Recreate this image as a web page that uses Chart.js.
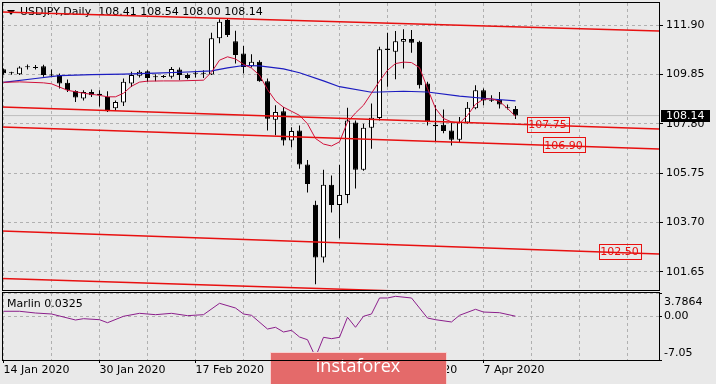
<!DOCTYPE html>
<html>
<head>
<meta charset="utf-8">
<script src="https://cdn.jsdelivr.net/npm/chart.js@4.4.0/dist/chart.umd.min.js"></script>
<style>
  html, body { margin: 0; padding: 0; background: #e9e9e9; }
  #wrap { position: relative; width: 716px; height: 384px; background: #e9e9e9; overflow: hidden; }
  #main { position: absolute; left: 0; top: 0; }
  #ind { position: absolute; left: 0; top: 290px; }
</style>
</head>
<body>
<div id="wrap">
  <canvas id="main" width="716" height="292"></canvas>
  <canvas id="ind" width="716" height="94"></canvas>
</div>
<script>
// daily candles, bar 0 = 14 Jan 2020
const symbol = "USDJPY,Daily";
const opens = [110.06,109.90,109.86,110.15,110.13,110.19,109.85,109.82,109.50,109.16,
  108.85,109.12,109.05,108.91,108.45,108.68,109.47,109.79,109.98,109.77,
  109.74,109.75,110.05,109.82,109.88,109.88,109.85,111.35,112.11,111.23,
  110.72,110.19,110.37,109.57,107.97,108.32,107.11,107.52,106.11,104.44,
  102.25,105.27,104.43,104.85,107.85,105.89,107.64,108.04,110.92,110.79,
  111.20,111.32,111.20,109.47,107.70,107.76,107.52,107.14,107.85,108.45,
  109.19,108.78,108.80,108.49,108.41];
const highs = [110.10,109.96,110.19,110.26,110.24,110.25,110.05,109.89,109.64,109.19,
  109.19,109.22,109.19,109.15,108.77,109.68,109.96,110.02,110.02,109.86,
  109.83,110.16,110.14,109.90,110.00,110.02,111.58,112.14,112.18,111.66,
  111.03,110.69,110.44,109.68,108.57,108.50,107.66,107.73,106.30,104.61,
  105.89,105.65,106.10,108.47,107.94,107.80,108.64,111.00,111.58,111.65,
  111.72,111.69,111.25,109.55,108.57,108.39,107.83,108.08,108.70,109.40,
  109.26,108.98,109.12,108.60,108.54];
const lows = [109.84,109.84,109.83,110.05,110.05,109.75,109.75,109.26,109.12,108.70,
  108.77,108.91,108.52,108.29,108.33,108.54,109.33,109.72,109.54,109.57,
  109.70,109.68,109.61,109.65,109.72,109.70,109.82,111.14,111.40,110.30,
  109.89,110.14,109.54,107.52,107.32,106.90,106.83,105.93,104.95,101.14,
  102.04,104.12,103.05,104.50,105.12,105.85,106.76,107.94,109.34,109.65,
  110.10,110.75,109.26,107.73,107.08,107.41,106.90,107.04,107.80,108.40,
  108.57,108.70,108.43,108.39,108.00];
const closes = [109.90,109.92,110.14,110.17,110.12,109.82,109.80,109.47,109.19,108.89,
  109.12,108.98,109.00,108.32,108.70,109.54,109.82,109.96,109.70,109.73,
  109.76,110.07,109.82,109.70,109.90,109.91,111.35,112.04,111.48,110.65,
  110.16,110.37,109.57,108.01,108.29,107.11,107.50,106.11,105.30,102.25,
  105.27,104.43,104.85,107.94,105.89,107.64,108.05,110.89,110.86,111.23,
  111.32,111.16,109.40,107.91,107.76,107.50,107.14,107.87,108.47,109.19,
  108.77,108.76,108.60,108.45,108.14];

// moving averages
const slowMaBars = [0,4,7,11,15,19,23,26,28,30,32,35,37,40,42,46,50,53,57,61,64];
const slowMaValues = [109.52,109.68,109.80,109.84,109.86,109.90,109.95,110.00,110.12,110.22,110.20,
  110.08,109.92,109.58,109.34,109.11,109.15,109.12,108.95,108.83,108.75];
const fastMaBars = [0,2,5,6,8,10,12,13,14,15,16,17,18,20,22,
  25,26,27,28,29,30,31,32,33,34,35,36,37,38,39,40,41,42,43,44,
  45,46,47,48,49,50,51,52,53,54,55,56,57,58,59,60,61,62,63,64];
const fastMaValues = [109.52,109.54,109.50,109.46,109.19,109.07,108.98,108.92,108.92,109.07,
  109.36,109.53,109.57,109.58,109.58,
  109.61,109.94,110.44,110.58,110.49,110.27,110.11,109.82,109.22,108.75,
  108.49,108.32,108.15,107.80,107.19,106.96,106.88,107.05,107.87,108.25,
  108.57,109.07,109.57,110.02,110.30,110.36,110.34,110.13,109.27,108.44,
  108.02,107.88,107.82,108.15,108.61,108.82,108.84,108.73,108.44,108.11];

// sloping red lines: price at left edge / right edge
const trendStart = [112.44, 108.50, 107.67, 103.35, 101.38];
const trendEnd = [111.65, 107.58, 106.75, 102.40, 100.52];
const levelLabels = ["107.75", "106.90", "102.50"];

// Marlin oscillator
const marlinName = "Marlin";
const marlinBars = [0,2,4,6,9,10,12,13,15,17,19,21,23,25,27,29,30,31,33,34,35,36,37,38,39,40,41,42,
  43,44,45,46,47,48,49,51,53,54,56,57,59,60,62,64];
const marlinValues = [0.83,0.83,0.55,0.39,-0.58,-0.37,-0.53,-1.02,0.02,0.50,0.28,0.50,0.12,0.28,
  2.12,1.36,0.39,0.18,-2.04,-1.76,-2.52,-2.25,-3.33,-3.77,-6.56,-3.38,-3.60,-3.38,
  -0.14,-1.76,0.02,0.39,2.98,2.98,3.25,2.98,-0.26,-0.53,-0.90,0.18,1.15,0.71,0.60,0.0325];
const marlinTicks = [3.7864, 0, -7.05];
const marlinTickLabels = ["3.7864", "0.00", "-7.05"];

// axes
const priceTicks = [101.65, 103.70, 105.75, 107.80, 109.85, 111.90];
const gridBars = [0,6,12,18,24,30,36,42,48,54,60,66,72,78];
const dateBars = [0,12,24,36,48,60];
const dateLabels = ["14 Jan 2020", "30 Jan 2020", "17 Feb 2020", "4 Mar 2020", "20 Mar 2020", "7 Apr 2020"];

const xMin = -0.1875, xMax = 81.9375;
const yMin = 100.903, yMax = 112.813;
const font = { family: "DejaVu Sans", size: 11 };
const gridColor = "#b0b0b0";
const redLine = "#e81010";
const last = opens.length - 1;
const lastClose = closes[last];

const pts = (xs, ys) => xs.map((x, i) => ({ x: x, y: ys[i] }));
const idx = opens.map((_, i) => i);
const bodyColors = idx.map(i => {
  if (Math.abs(closes[i] - opens[i]) < 0.035) return "#000";
  return closes[i] > opens[i] ? "#fff" : "#000";
});

const framePlugin = {
  id: "frame",
  afterDraw(chart) {
    const { ctx, chartArea: a } = chart;
    ctx.save();
    ctx.strokeStyle = "#000";
    ctx.lineWidth = 1;
    ctx.strokeRect(a.left + 0.5, a.top - 0.5, a.right - a.left, a.bottom - a.top + 1);
    ctx.restore();
  }
};

const mainPlugin = {
  id: "mainText",
  beforeDatasetsDraw(chart) {
    const ctx = chart.ctx;
    ctx.save();
    ctx.fillStyle = "#000";
    ctx.beginPath();
    ctx.moveTo(7, 10); ctx.lineTo(15, 10); ctx.lineTo(11, 15); ctx.closePath();
    ctx.fill();
    ctx.font = "11px 'DejaVu Sans'";
    ctx.textBaseline = "middle";
    const nums = [opens[last], highs[last], lows[last], closes[last]].map(v => v.toFixed(2)).join(" ");
    ctx.fillText(symbol + "  " + nums, 20, 12.5);
    ctx.restore();
  },
  afterDatasetsDraw(chart, args, opts) {
    const { ctx, scales: { x, y } } = chart;
    ctx.save();
    ctx.font = "11px 'DejaVu Sans'";
    ctx.textAlign = "center";
    ctx.textBaseline = "middle";
    levelLabels.forEach((t, k) => {
      const cx = x.getPixelForValue(opts.anchors[k]);
      const cy = y.getPixelForValue(parseFloat(t));
      const w = Math.round(ctx.measureText(t).width + 4);
      ctx.strokeStyle = redLine;
      ctx.lineWidth = 1;
      ctx.strokeRect(Math.round(cx - w / 2) + 0.5, Math.round(cy - 8) + 0.5, w, 15);
      ctx.fillStyle = redLine;
      ctx.fillText(t, cx, cy + 0.5);
    });
    ctx.restore();
  },
  afterDraw(chart) {
    const { ctx, chartArea: a, scales: { y } } = chart;
    const py = Math.round(y.getPixelForValue(lastClose));
    ctx.save();
    ctx.fillStyle = "#000";
    ctx.fillRect(a.right + 2, py - 6, 49, 12);
    ctx.fillStyle = "#fff";
    ctx.font = "11px 'DejaVu Sans'";
    ctx.textBaseline = "middle";
    ctx.fillText(lastClose.toFixed(2), a.right + 7, py + 0.5);
    ctx.restore();
  }
};

new Chart(document.getElementById("main"), {
  type: "line",
  data: {
    datasets: [
      { type: "line", data: [{ x: xMin, y: lastClose }, { x: xMax, y: lastClose }],
        borderColor: "#bdbdbd", borderWidth: 1, pointRadius: 0, order: 10 },
      { type: "bar", data: idx.map(i => ({ x: i, y: [lows[i], highs[i]] })),
        backgroundColor: "#000", borderWidth: 0, barThickness: 1, grouped: false, inflateAmount: 0, order: 6 },
      { type: "bar", data: idx.map(i => ({ x: i, y: [opens[i], closes[i]] })),
        backgroundColor: bodyColors, borderColor: "#000", borderWidth: 1, borderSkipped: false,
        barThickness: 5, minBarLength: 1, grouped: false, inflateAmount: 0, order: 5 },
      { type: "line", data: pts(slowMaBars, slowMaValues), borderColor: "#1c1cc0", borderWidth: 1.2, pointRadius: 0, order: 3 },
      { type: "line", data: pts(fastMaBars, fastMaValues), borderColor: "#d0103a", borderWidth: 1, pointRadius: 0, order: 2 },
      ...trendStart.map((v, k) => ({
        type: "line", data: [{ x: xMin, y: v }, { x: xMax, y: trendEnd[k] }],
        borderColor: redLine, borderWidth: 1.5, pointRadius: 0, order: 1
      }))
    ]
  },
  options: {
    responsive: false, animation: false, devicePixelRatio: 1, events: [],
    layout: { padding: { left: 2, right: 0, top: 3, bottom: 2 } },
    plugins: { legend: { display: false }, tooltip: { enabled: false }, mainText: { anchors: [68, 70, 77] } },
    scales: {
      x: {
        type: "linear", min: xMin, max: xMax, offset: false,
        afterBuildTicks: s => { s.ticks = gridBars.map(v => ({ value: v })); },
        afterFit: s => { s.height = 0; s.paddingLeft = 0; s.paddingRight = 0; },
        ticks: { display: false },
        grid: { color: gridColor, drawTicks: false, offset: false },
        border: { display: false, dash: [3, 3] }
      },
      y: {
        position: "right", min: yMin, max: yMax,
        afterBuildTicks: s => { s.ticks = priceTicks.map(v => ({ value: v })); },
        afterFit: s => { s.width = 57; s.paddingTop = 0; s.paddingBottom = 0; },
        ticks: { color: "#000", font: font, padding: 3, callback: v => Number(v).toFixed(2) },
        grid: { color: gridColor, tickLength: 4, tickColor: "#000", tickBorderDash: [] },
        border: { display: false, dash: [3, 3] }
      }
    }
  },
  plugins: [mainPlugin, framePlugin]
});

const indPlugin = {
  id: "indText",
  afterDraw(chart) {
    const { ctx, chartArea: a, scales: { y } } = chart;
    ctx.save();
    ctx.fillStyle = "#000";
    ctx.font = "11px 'DejaVu Sans'";
    ctx.textBaseline = "middle";
    ctx.fillText(marlinName + " " + marlinValues[marlinValues.length - 1].toFixed(4), 7, 14);
    marlinTicks.forEach((v, k) => {
      let py = y.getPixelForValue(v);
      if (v === y.max) py += 9;
      if (v === y.min) py -= 7;
      ctx.fillText(marlinTickLabels[k], a.right + 5, py);
    });
    // watermark
    ctx.fillStyle = "#e46a6a";
    ctx.fillRect(270, 62, 177, 34);
    ctx.strokeStyle = "rgba(255,255,255,0.7)";
    ctx.strokeRect(270.5, 62.5, 176, 34);
    ctx.fillStyle = "#fff";
    ctx.font = "18px 'Open Sans'";
    ctx.textAlign = "center";
    ctx.fillText("instaforex", 358, 77);
    ctx.restore();
  }
};

new Chart(document.getElementById("ind"), {
  type: "line",
  data: {
    datasets: [
      { data: pts(marlinBars, marlinValues), borderColor: "#8b1e8b", borderWidth: 1, pointRadius: 0 }
    ]
  },
  options: {
    responsive: false, animation: false, devicePixelRatio: 1, events: [],
    layout: { padding: { left: 2, right: 0, top: 3, bottom: 0 } },
    plugins: { legend: { display: false }, tooltip: { enabled: false } },
    scales: {
      x: {
        type: "linear", min: xMin, max: xMax, offset: false,
        afterBuildTicks: s => { s.ticks = gridBars.map(v => ({ value: v })); },
        afterFit: s => { s.height = 24; s.paddingLeft = 0; s.paddingRight = 0; },
        ticks: {
          autoSkip: false, maxRotation: 0, minRotation: 0, align: "start", padding: 1,
          color: "#000", font: font,
          callback: v => { const k = dateBars.indexOf(v); return k >= 0 ? dateLabels[k] : ""; }
        },
        grid: {
          color: gridColor, tickLength: 3, tickBorderDash: [],
          tickColor: c => (c.tick && dateBars.includes(c.tick.value)) ? "#000" : "rgba(0,0,0,0)"
        },
        border: { display: false, dash: [3, 3] }
      },
      y: {
        position: "right", min: marlinTicks[2], max: marlinTicks[0],
        afterBuildTicks: s => { s.ticks = marlinTicks.map(v => ({ value: v })); },
        afterFit: s => { s.width = 57; s.paddingTop = 0; s.paddingBottom = 0; },
        ticks: { display: false },
        grid: { color: gridColor, tickLength: 3, tickColor: "#000", tickBorderDash: [] },
        border: { display: false, dash: [3, 3] }
      }
    }
  },
  plugins: [indPlugin, framePlugin]
});
</script>
</body>
</html>
